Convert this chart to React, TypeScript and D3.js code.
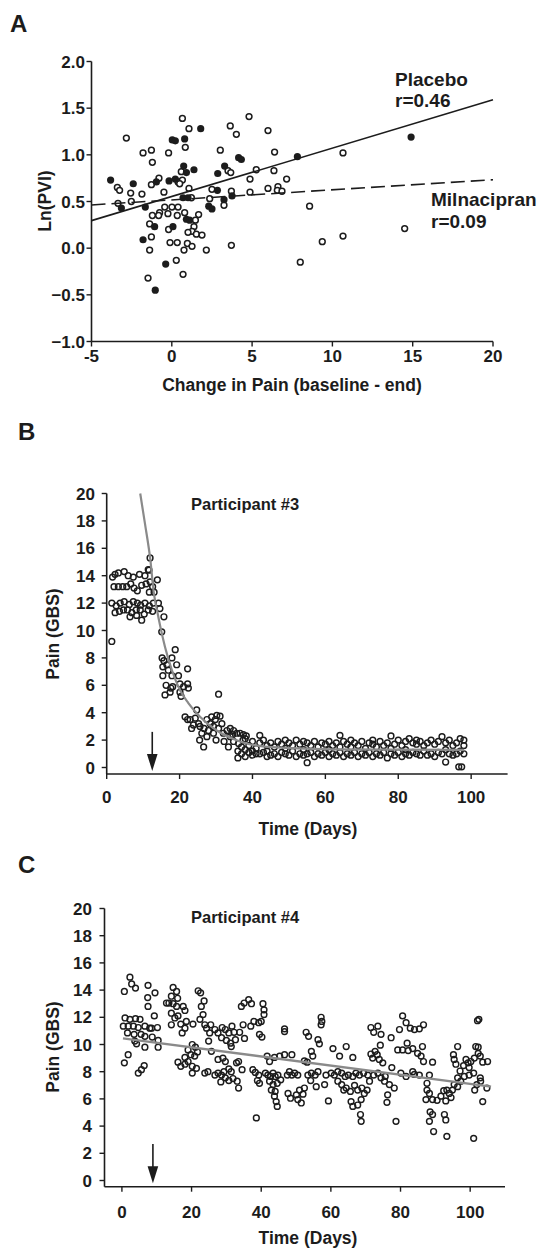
import React from "react";
import * as d3 from "d3";

// ---------------- Panel A data ----------------
const xTicksA = [-5, 0, 5, 10, 15, 20];
const yTicksA = [-1.0, -0.5, 0.0, 0.5, 1.0, 1.5, 2.0];
// filled circles (placebo)
const placeboPoints: [number, number][] = [
  [1.8, 1.28], [0.03, 1.16], [0.22, 1.15], [0.8, 1.17], [4.16, 0.97], [4.33, 0.95], [7.82, 0.98],
  [0.74, 0.88], [1.38, 0.84], [3.29, 0.88], [2.86, 0.8], [-3.81, 0.73], [-2.4, 0.69], [-0.96, 0.71],
  [-0.17, 0.72], [0.22, 0.74], [0.91, 0.81], [2.84, 0.62], [3.75, 0.56], [-3.14, 0.43], [-1.65, 0.44],
  [0.7, 0.54], [1.01, 0.54], [3.25, 0.52], [2.3, 0.45], [2.5, 0.42], [0.91, 0.31], [1.11, 0.3],
  [-1.07, 0.23], [0.07, 0.23], [-1.79, 0.09], [-0.38, -0.17], [-1.03, -0.45], [14.9, 1.19],
];
// open circles (milnacipran)
const milnacipranPoints: [number, number][] = [
  [0.66, 1.39], [4.81, 1.41], [1.07, 1.28], [3.64, 1.31], [4.02, 1.22], [5.99, 1.26], [-2.83, 1.18],
  [0.84, 1.08], [-1.79, 1.02], [-1.27, 1.05], [-0.2, 1.02], [3.02, 1.05], [6.4, 1.03], [10.66, 1.02],
  [-1.21, 0.92], [0.59, 0.82], [3.5, 0.83], [3.67, 0.81], [5.26, 0.84], [6.36, 0.83], [-0.8, 0.75],
  [0.39, 0.71], [0.66, 0.73], [-1.27, 0.68], [0.49, 0.69], [4.87, 0.74], [7.15, 0.74], [-3.39, 0.65],
  [-3.25, 0.62], [-2.56, 0.59], [-1.86, 0.58], [-0.49, 0.6], [1.07, 0.64], [2.5, 0.63], [3.71, 0.61],
  [5.99, 0.64], [6.61, 0.66], [6.57, 0.62], [6.86, 0.61], [4.87, 0.6], [-3.35, 0.48], [-2.52, 0.5],
  [1.22, 0.54], [2.36, 0.53], [3.25, 0.46], [-0.44, 0.44], [0.01, 0.44], [0.39, 0.44], [-0.76, 0.38],
  [-0.24, 0.37], [-1.21, 0.35], [-0.82, 0.35], [0.34, 0.35], [0.8, 0.38], [1.67, 0.36], [1.47, 0.3],
  [-1.38, 0.26], [-0.2, 0.2], [1.38, 0.23], [1.26, 0.18], [1.01, 0.17], [1.53, 0.15], [1.88, 0.14],
  [8.58, 0.45], [-1.27, 0.12], [-0.11, 0.06], [0.34, 0.06], [0.97, 0.05], [1.26, 0.02], [3.71, 0.03],
  [-1.38, -0.02], [0.76, -0.02], [2.15, -0.02], [9.37, 0.07], [10.66, 0.13], [0.28, -0.13], [8.0, -0.15],
  [-1.48, -0.32], [0.7, -0.28], [14.5, 0.21],
];
const placeboFit: [number, number][] = [[-5, 0.295], [20, 1.59]];
const milnacipranFit: [number, number][] = [[-5, 0.463], [20, 0.733]];

// ---------------- Panel B data ----------------
const xTicksTime = [0, 20, 40, 60, 80, 100];
const yTicksPain = [0, 2, 4, 6, 8, 10, 12, 14, 16, 18, 20];
const participant3Pain: [number, number][] = [
  [1.6, 13.9], [2.3, 14.1], [3.2, 14.2], [4.8, 14.3], [5.9, 14.0], [7.3, 13.9], [9.0, 14.1], [10.5, 14.0],
  [11.4, 14.45], [11.9, 13.55], [13.9, 13.7], [2.0, 13.2], [3.2, 13.2], [4.4, 13.2], [5.5, 13.2], [6.6, 13.4],
  [7.5, 13.1], [8.4, 12.9], [9.6, 13.3], [10.8, 13.4], [11.7, 12.8], [13.0, 12.8], [12.6, 13.2], [11.9, 15.3],
  [11.6, 14.4],
  [1.4, 12.0], [2.6, 11.8], [3.7, 12.0], [4.8, 12.1], [6.2, 11.9], [7.3, 12.1], [8.4, 12.0], [9.3, 11.85],
  [10.5, 12.0], [11.7, 11.8], [12.8, 12.0], [14.2, 12.0], [2.3, 11.3], [3.5, 11.4], [4.6, 11.5], [5.7, 11.5],
  [6.9, 11.3], [8.1, 11.5], [9.2, 11.5], [10.3, 11.2], [11.4, 11.5], [12.6, 11.4], [6.4, 11.0], [9.6, 10.75],
  [8.2, 11.1], [14.6, 11.6], [15.7, 11.0], [1.4, 9.2],
  [15.1, 9.9], [15.2, 8.0], [15.7, 7.8], [17.9, 8.0], [18.8, 8.6], [16.5, 7.5], [15.4, 7.35], [16.9, 7.1],
  [19.2, 7.5], [15.4, 6.7], [17.9, 6.7], [19.7, 6.7], [22.2, 7.2], [16.3, 6.0], [17.6, 5.8], [16.0, 5.3],
  [17.4, 5.5], [18.1, 5.9], [20.1, 6.1], [21.1, 5.9], [22.2, 6.1], [20.1, 5.5], [22.4, 5.8], [20.4, 5.2],
  [30.7, 5.35],
  [21.5, 3.7], [22.2, 3.5], [22.9, 3.5], [24.3, 3.6], [24.7, 4.2], [23.8, 3.1], [25.2, 3.2], [25.6, 3.0],
  [26.7, 2.85], [25.5, 2.0], [26.6, 1.5], [27.5, 3.5], [28.4, 3.2], [28.8, 3.7], [29.8, 3.5], [30.2, 3.8],
  [31.1, 3.75], [31.6, 3.2], [29.3, 3.0], [30.7, 2.85], [30.0, 2.0], [32.0, 2.5], [33.0, 2.7], [33.9, 2.85],
  [34.8, 2.7], [34.6, 2.4], [35.7, 2.5], [36.6, 2.5], [37.5, 2.4], [38.3, 2.3], [32.2, 1.9], [33.4, 1.5],
  [34.8, 1.9], [36.2, 1.75], [37.4, 2.0], [33.9, 2.25], [27.9, 2.7], [29.3, 2.5], [26.1, 2.5], [27.5, 2.25],
  [23.3, 2.85],
  [36, 0.7], [36, 1.2], [37, 1.0], [37, 1.5], [38, 0.8], [38, 1.3], [38, 2.1], [39, 1.1], [39, 1.6],
  [40, 0.9], [40, 1.2], [40, 1.9], [41, 1.0], [41, 1.4], [42, 2.35], [42, 1.0], [42, 1.8], [43, 1.1], [43, 2.0],
  [44, 0.8], [44, 1.6], [44, 1.2], [45, 0.9], [45, 1.8], [46, 1.0], [46, 1.5], [47, 0.8], [47, 1.9],
  [48, 1.1], [48, 1.7], [49, 1.0], [49, 1.4], [49, 2.0], [50, 0.9], [50, 1.8], [51, 1.2], [51, 1.6],
  [52, 0.8], [52, 2.0], [53, 1.0], [53, 1.7], [54, 0.9], [54, 1.9], [54, 1.3], [55, 0.35], [55, 1.0], [55, 1.8],
  [56, 1.1], [56, 1.6], [57, 0.8], [57, 1.9], [58, 1.0], [58, 1.5], [59, 0.9], [59, 1.8], [60, 1.1], [60, 1.7],
  [61, 0.8], [61, 1.9], [61, 1.3], [62, 1.0], [62, 1.6], [63, 0.9], [63, 1.8], [64, 2.35], [64, 1.1], [64, 1.5],
  [65, 0.8], [65, 1.9], [66, 1.0], [66, 1.7], [67, 0.9], [67, 1.5], [67, 2.0], [68, 1.1], [68, 1.8],
  [69, 0.8], [69, 1.6], [70, 1.0], [70, 1.9], [71, 0.9], [71, 1.4], [72, 1.1], [72, 1.8], [73, 0.8], [73, 1.7],
  [73, 2.0], [74, 1.0], [74, 1.5], [75, 0.9], [75, 1.9], [76, 1.1], [76, 1.6], [77, 0.7], [77, 1.8],
  [78, 2.3], [78, 1.0], [78, 1.4], [79, 0.9], [79, 1.7], [80, 1.1], [80, 2.0], [81, 0.8], [81, 1.6],
  [82, 1.0], [82, 1.9], [82, 1.3], [83, 0.9], [83, 2.1], [84, 1.1], [84, 1.8], [85, 1.0], [85, 1.7], [85, 2.0],
  [86, 0.9], [86, 1.9], [87, 1.2], [87, 1.6], [88, 0.9], [88, 1.8], [89, 1.0], [89, 2.0], [90, 0.8], [90, 1.7],
  [91, 1.1], [91, 1.9], [92, 2.25], [92, 1.0], [93, 0.4], [93, 1.8], [93, 1.3], [94, 1.0], [94, 2.0],
  [95, 0.9], [95, 1.6], [96, 1.0], [96, 1.8], [96.6, 0.05], [97.4, 0.05], [97, 1.2], [97, 2.1],
  [98, 1.0], [98, 2.0], [98, 1.6],
];
const participant3Fit: [number, number][] = [
  [9.2, 20], [10.5, 17.8], [12, 15.1], [12.9, 12.8], [13.8, 11.5], [14.7, 10.3], [16, 8.8], [17.9, 7.1],
  [20.1, 5.65], [22.4, 4.7], [25.6, 3.7], [30.2, 2.7], [36.6, 1.9], [44, 1.5], [62, 1.33], [98, 1.28],
];
const participant3Arrow = { day: 12.5, from: 2.6, to: -0.25 };

// ---------------- Panel C data ----------------
const participant4Pain: [number, number][] = [
  [2.3, 14.95], [2.8, 14.45], [3.9, 14.15], [0.7, 13.9], [7.5, 14.35], [9.5, 13.8], [7.4, 13.45], [7.5, 12.8],
  [0.9, 11.95], [2.3, 11.85], [3.9, 11.9], [5.2, 11.85], [0.4, 11.35], [1.8, 11.35], [3.3, 11.35], [4.7, 11.25],
  [6.6, 11.35], [8.5, 11.2], [10.2, 11.25], [1.6, 10.85], [3.5, 10.75], [5.5, 10.75], [6.6, 10.6], [8.7, 10.55],
  [4.2, 10.05], [6.6, 9.8], [10.4, 10.3], [10.4, 9.8], [3.7, 10.25], [1.8, 9.25], [0.7, 8.65], [4.7, 7.9],
  [5.6, 8.15], [6.4, 8.45], [8.0, 11.2], [9.3, 12.1],
  [14.7, 14.2], [15.7, 13.9], [14.2, 13.55], [16.0, 13.4], [13.5, 13.05], [14.7, 13.0], [15.7, 12.8], [18.1, 12.5],
  [17.6, 12.8], [21.9, 13.95], [22.6, 13.8], [23.6, 13.2], [22.8, 12.8], [23.3, 12.2], [12.8, 13.05], [14.2, 12.3],
  [15.2, 11.95], [16.1, 12.1], [16.9, 11.5], [14.2, 11.45], [18.5, 11.7], [20.4, 11.5], [22.4, 11.85], [23.8, 11.45],
  [18.1, 11.2], [17.3, 10.85], [21.1, 9.8], [20.2, 10.0], [19.0, 9.6], [19.8, 9.25], [20.9, 9.15], [21.7, 9.45],
  [18.1, 9.05], [16.1, 8.7], [16.9, 8.4], [18.1, 8.55], [19.0, 8.75], [20.2, 8.4], [21.4, 8.25], [20.2, 7.9],
  [23.8, 7.9], [24.7, 8.0], [25.2, 10.85], [24.3, 11.2], [25.5, 11.45], [24.9, 10.25], [25.7, 9.5],
  [26.7, 11.1], [27.6, 10.85], [28.8, 11.25], [29.7, 11.1], [30.7, 10.85], [31.6, 11.35], [32.2, 10.9], [28.6, 10.5],
  [30.0, 10.3], [31.2, 10.1], [31.4, 9.85], [32.6, 10.35], [33.8, 10.9], [34.8, 11.45], [35.2, 10.45], [37.0, 11.35],
  [37.9, 11.7], [34.3, 12.8], [35.1, 13.05], [36.4, 13.3], [37.2, 13.0], [40.5, 13.0], [40.8, 12.55], [40.8, 12.2],
  [40.0, 11.7], [39.3, 11.6], [39.5, 10.75], [40.2, 10.55], [27.6, 8.9], [29.0, 9.0], [29.7, 8.75], [26.7, 7.75],
  [27.6, 7.9], [28.6, 7.75], [29.3, 8.0], [30.7, 8.2], [31.4, 8.0], [29.7, 7.55], [28.4, 7.25], [30.7, 7.35],
  [31.9, 7.5], [33.1, 7.3], [33.5, 6.8], [32.9, 8.65], [33.5, 8.75], [34.5, 8.15], [37.6, 8.15], [38.3, 7.95],
  [39.3, 7.75], [38.9, 7.35], [39.5, 7.15], [38.6, 4.6],
  [41.2, 7.9], [41.9, 7.75], [42.7, 7.65], [43.4, 7.9], [44.0, 7.65], [44.8, 7.75], [45.6, 7.4], [42.4, 7.3],
  [43.4, 7.05], [44.6, 7.15], [42.9, 6.65], [44.0, 6.55], [43.8, 6.2], [44.3, 5.8], [44.6, 5.45], [41.7, 9.15],
  [42.4, 8.75], [43.8, 9.05], [45.3, 9.15], [46.7, 9.25], [48.8, 9.25], [46.7, 11.15], [46.7, 10.95], [47.5, 7.75],
  [48.1, 8.0], [48.8, 7.75], [49.6, 7.9], [50.5, 7.75], [47.7, 6.4], [48.4, 6.05], [50.1, 6.3], [50.5, 5.95],
  [51.5, 5.7], [51.0, 6.65], [52.0, 6.35], [52.4, 6.8], [52.9, 10.9], [53.6, 10.6], [52.4, 8.8], [53.2, 8.7],
  [54.4, 9.5], [54.8, 9.15], [56.3, 10.35], [56.7, 10.05], [57.2, 12.0], [57.4, 11.7], [57.2, 11.45], [53.4, 7.75],
  [54.4, 7.9], [55.5, 7.75], [56.3, 8.0], [55.8, 6.9], [54.2, 7.35], [59.3, 5.85], [58.2, 7.05],
  [58.6, 7.75], [60.1, 7.9], [61.0, 7.75], [62.0, 8.0], [63.1, 7.9], [64.1, 7.65], [65.0, 7.75], [66.3, 7.65],
  [67.2, 7.9], [68.2, 7.75], [69.4, 7.9], [70.6, 7.75], [62.0, 7.3], [63.1, 7.05], [64.4, 6.8], [65.6, 6.55],
  [63.7, 6.65], [66.8, 7.0], [67.7, 6.65], [68.9, 6.8], [65.8, 5.8], [66.3, 5.45], [67.7, 5.55], [68.7, 5.95],
  [68.5, 4.85], [68.7, 4.35], [69.6, 6.4], [70.4, 6.65], [60.6, 9.7], [62.5, 9.15], [64.4, 9.85], [66.3, 9.05],
  [71.5, 11.25], [72.3, 10.9], [73.5, 11.35], [74.4, 10.75], [74.2, 9.95], [72.7, 9.5], [71.5, 9.3], [73.3, 9.25],
  [73.9, 8.9], [74.9, 8.65], [72.0, 9.0], [72.3, 7.75], [73.5, 7.9], [74.4, 7.55], [75.6, 7.65], [75.4, 7.3],
  [76.8, 7.05], [76.3, 6.3], [76.1, 5.75], [78.2, 6.8], [77.5, 8.3], [78.7, 4.35], [71.1, 7.3], [77.3, 10.5],
  [80.6, 12.1], [81.6, 11.6], [82.8, 11.2], [84.0, 11.1], [85.4, 11.15], [86.6, 11.45], [79.7, 11.1], [79.2, 9.6],
  [80.6, 9.6], [81.9, 10.1], [82.2, 9.55], [83.5, 9.7], [84.9, 9.35], [86.3, 9.85], [85.9, 9.15], [86.6, 8.75],
  [83.5, 8.0], [84.0, 7.8], [80.1, 7.9], [81.6, 7.65], [85.4, 7.75], [88.3, 7.75], [89.2, 8.7], [87.6, 7.15],
  [87.6, 6.65], [88.3, 6.4], [87.3, 5.95], [89.2, 5.95], [90.5, 5.9], [91.6, 6.2], [92.4, 6.6], [93.3, 6.65],
  [94.0, 6.4], [94.5, 6.1], [93.0, 5.85], [88.5, 5.05], [89.2, 4.85], [88.3, 4.35], [89.5, 3.6], [92.6, 4.85],
  [93.0, 4.45], [93.3, 3.25], [95.2, 9.25], [96.4, 9.85], [95.4, 8.9], [95.9, 8.55], [94.9, 6.65], [95.4, 7.05],
  [96.4, 6.9],
  [97.1, 8.05], [98.1, 8.45], [98.8, 8.9], [99.4, 8.65], [100.2, 8.75], [101.2, 9.0], [101.6, 9.85], [102.3, 9.35],
  [102.9, 9.15], [102.1, 11.75], [97.3, 7.3], [98.3, 7.65], [99.7, 7.75], [101.0, 7.9], [101.9, 7.05], [102.9, 7.55],
  [101.3, 6.65], [101.0, 3.1], [99.7, 8.3], [96.4, 7.55], [103.6, 8.7], [105.0, 8.75], [103.0, 7.3], [104.8, 6.8],
  [103.6, 5.8], [102.5, 11.85], [102.3, 9.8],
];
const participant4Fit: [number, number][] = [[0.3, 10.45], [106, 6.9]];
const participant4Arrow = { day: 8.9, from: 2.68, to: -0.2 };

// ---------------- styling ----------------
const FONT = "'Liberation Sans', Arial, Helvetica, sans-serif";
const INK = "#1c1c1c";
const TICK = 17;

type Scale = d3.ScaleLinear<number, number>;

function YAxis({ y, x0, top, bottom, ticks, fmt, labelX }: { y: Scale; x0: number; top: number; bottom: number; ticks: number[]; fmt: (v: number) => string; labelX: number }) {
  return (
    <g>
      <line x1={x0} x2={x0} y1={top} y2={bottom} stroke={INK} strokeWidth={1.6} />
      {ticks.map((t) => (
        <g key={t}>
          <line x1={x0 - 5} x2={x0} y1={y(t)} y2={y(t)} stroke={INK} strokeWidth={1.4} />
          <text x={labelX} y={y(t) + 6} textAnchor="end" fontSize={TICK} fontWeight="bold" fill={INK} fontFamily={FONT}>
            {fmt(t)}
          </text>
        </g>
      ))}
    </g>
  );
}

function XAxis({ x, y0, left, right, ticks, labelY }: { x: Scale; y0: number; left: number; right: number; ticks: number[]; labelY: number }) {
  return (
    <g>
      <line x1={left} x2={right} y1={y0} y2={y0} stroke={INK} strokeWidth={1.6} />
      {ticks.map((t) => (
        <g key={t}>
          <line x1={x(t)} x2={x(t)} y1={y0} y2={y0 + 5} stroke={INK} strokeWidth={1.4} />
          <text x={x(t)} y={labelY} textAnchor="middle" fontSize={TICK} fontWeight="bold" fill={INK} fontFamily={FONT}>
            {String(t)}
          </text>
        </g>
      ))}
    </g>
  );
}

function Arrow({ x, yTop, yTip }: { x: number; yTop: number; yTip: number }) {
  const head = 17;
  return (
    <g>
      <line x1={x} x2={x} y1={yTop} y2={yTip - head + 2} stroke={INK} strokeWidth={1.6} />
      <path d={`M${x - 5.3},${yTip - head} L${x + 5.3},${yTip - head} L${x},${yTip} Z`} fill={INK} />
    </g>
  );
}

export default function App() {
  // Panel A scales
  const xA = d3.scaleLinear().domain([-5, 20]).range([91.5, 493]);
  const yA = d3.scaleLinear().domain([-1, 2]).range([341.5, 61.5]);
  const lineA = d3.line<[number, number]>().x((d) => xA(d[0])).y((d) => yA(d[1]));

  // Panel B scales
  const xB = d3.scaleLinear().domain([0, 110]).range([106.7, 507.6]);
  const yB = d3.scaleLinear().domain([0, 20]).range([767.5, 493.5]);
  const lineB = d3
    .line<[number, number]>()
    .x((d) => xB(d[0]))
    .y((d) => yB(d[1]))
    .curve(d3.curveMonotoneX);

  // Panel C scales
  const xC = d3.scaleLinear().domain([-5, 110]).range([104.5, 505]);
  const yC = d3.scaleLinear().domain([0, 20]).range([1180.5, 908.5]);
  const lineC = d3.line<[number, number]>().x((d) => xC(d[0])).y((d) => yC(d[1]));

  const f1 = d3.format(".1f");

  return (
    <svg
      width={543}
      height={1249}
      viewBox="0 0 543 1249"
      style={{ position: "absolute", left: 0, top: 0, background: "#fff" }}
      fontFamily={FONT}
    >
      <rect x={0} y={0} width={543} height={1249} fill="#fff" />

      {/* ---------- Panel A ---------- */}
      <text x={10} y={32} fontSize={24} fontWeight="bold" fill={INK}>A</text>
      <YAxis y={yA} x0={91.5} top={61.5} bottom={341.5} ticks={yTicksA} fmt={(v) => f1(v)} labelX={85} />
      <XAxis x={xA} y0={341.5} left={91.5} right={493} ticks={xTicksA} labelY={362} />
      <text x={292} y={391} textAnchor="middle" fontSize={17.5} fontWeight="bold" fill={INK}>
        Change in Pain (baseline - end)
      </text>
      <text transform="translate(51,201) rotate(-90)" textAnchor="middle" fontSize={17.5} fontWeight="bold" fill={INK}>
        Ln(PVI)
      </text>
      {milnacipranPoints.map((d, i) => (
        <circle key={"mo" + i} cx={xA(d[0])} cy={yA(d[1])} r={2.9} fill="#fff" stroke={INK} strokeWidth={1.5} />
      ))}
      {placeboPoints.map((d, i) => (
        <circle key={"pf" + i} cx={xA(d[0])} cy={yA(d[1])} r={3.6} fill={INK} />
      ))}
      <path d={lineA(placeboFit) || ""} fill="none" stroke={INK} strokeWidth={1.6} />
      <path d={lineA(milnacipranFit) || ""} fill="none" stroke={INK} strokeWidth={1.6} strokeDasharray="14,6" />
      <text x={395} y={86} fontSize={19} fontWeight="bold" fill={INK}>Placebo</text>
      <text x={395} y={107} fontSize={19} fontWeight="bold" fill={INK}>r=0.46</text>
      <text x={431} y={206} fontSize={19} fontWeight="bold" fill={INK}>Milnacipran</text>
      <text x={431} y={228} fontSize={19} fontWeight="bold" fill={INK}>r=0.09</text>

      {/* ---------- Panel B ---------- */}
      <text x={18} y={440} fontSize={24} fontWeight="bold" fill={INK}>B</text>
      <YAxis y={yB} x0={106.7} top={493.5} bottom={774} ticks={yTicksPain} fmt={(v) => String(v)} labelX={95} />
      <XAxis x={xB} y0={774} left={106.7} right={507.6} ticks={xTicksTime} labelY={803} />
      <text x={308} y={835} textAnchor="middle" fontSize={17.5} fontWeight="bold" fill={INK}>Time (Days)</text>
      <text transform="translate(59,634) rotate(-90)" textAnchor="middle" fontSize={17.5} fontWeight="bold" fill={INK}>
        Pain (GBS)
      </text>
      <text x={191} y={510} fontSize={16.5} fontWeight="bold" fill={INK}>Participant #3</text>
      {participant3Pain.map((d, i) => (
        <circle key={"b" + i} cx={xB(d[0])} cy={yB(d[1])} r={2.9} fill="none" stroke={INK} strokeWidth={1.45} />
      ))}
      <path d={lineB(participant3Fit) || ""} fill="none" stroke="#8a8a8a" strokeWidth={2.2} />
      <Arrow x={xB(participant3Arrow.day)} yTop={yB(participant3Arrow.from)} yTip={yB(participant3Arrow.to)} />

      {/* ---------- Panel C ---------- */}
      <text x={18} y={873} fontSize={24} fontWeight="bold" fill={INK}>C</text>
      <YAxis y={yC} x0={104.5} top={908.5} bottom={1186.7} ticks={yTicksPain} fmt={(v) => String(v)} labelX={92} />
      <XAxis x={xC} y0={1186.7} left={104.5} right={505} ticks={xTicksTime} labelY={1218} />
      <text x={308} y={1244} textAnchor="middle" fontSize={17.5} fontWeight="bold" fill={INK}>Time (Days)</text>
      <text transform="translate(59,1047) rotate(-90)" textAnchor="middle" fontSize={17.5} fontWeight="bold" fill={INK}>
        Pain (GBS)
      </text>
      <text x={191} y={923} fontSize={16.5} fontWeight="bold" fill={INK}>Participant #4</text>
      {participant4Pain.map((d, i) => (
        <circle key={"c" + i} cx={xC(d[0])} cy={yC(d[1])} r={2.9} fill="none" stroke={INK} strokeWidth={1.45} />
      ))}
      <path d={lineC(participant4Fit) || ""} fill="none" stroke="#8a8a8a" strokeWidth={2.4} />
      <Arrow x={xC(participant4Arrow.day)} yTop={yC(participant4Arrow.from)} yTip={yC(participant4Arrow.to)} />
    </svg>
  );
}
